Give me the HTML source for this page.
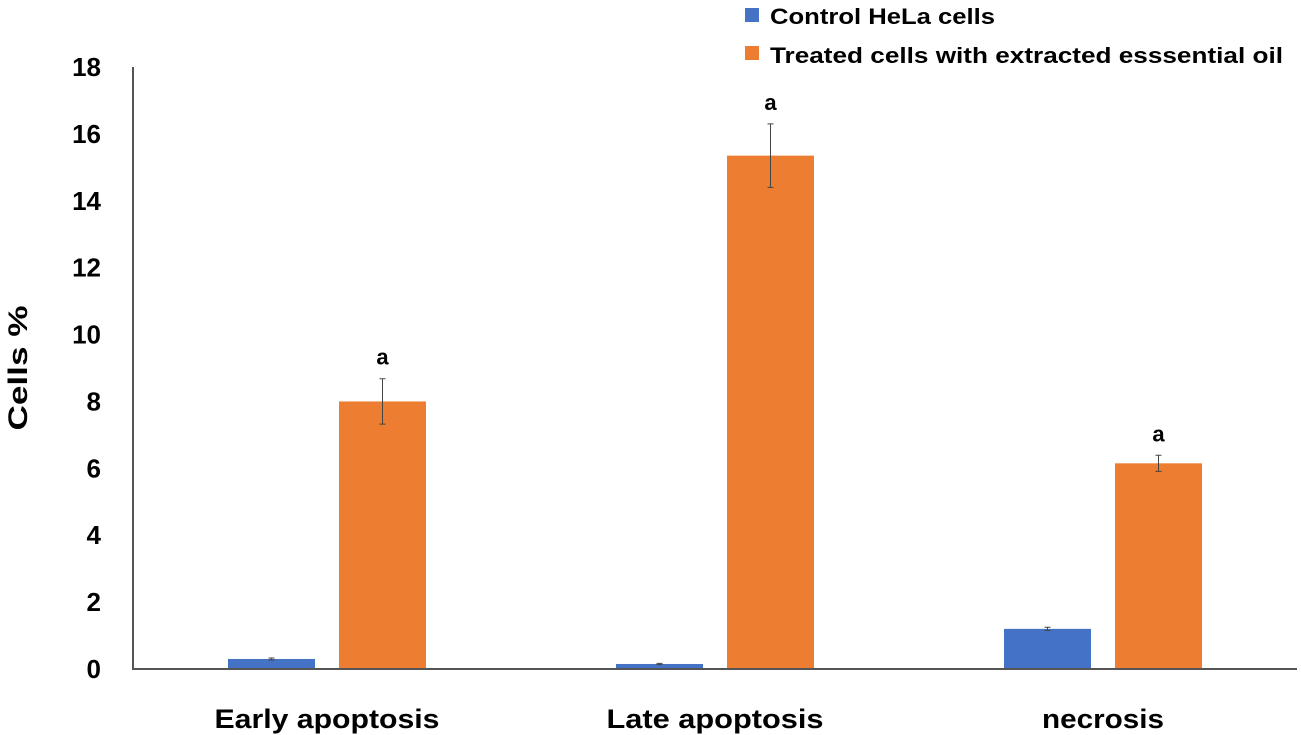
<!DOCTYPE html>
<html><head><meta charset="utf-8"><style>
html,body{margin:0;padding:0;background:#fff;}
svg{display:block;font-family:"Liberation Sans",sans-serif;font-weight:bold;}
</style></head><body>
<svg id="chart" width="1301" height="735">
<g id="legend">
<g><rect x="745" y="8" width="14" height="14" fill="#4472C4"/><text x="770" y="24" font-size="22" textLength="225" lengthAdjust="spacingAndGlyphs">Control HeLa cells</text></g>
<g><rect x="745" y="46" width="14" height="14" fill="#ED7D31"/><text x="770" y="63" font-size="22" textLength="513" lengthAdjust="spacingAndGlyphs">Treated cells with extracted esssential oil</text></g>
</g>
<text x="27" y="368" font-size="27" transform="rotate(-90 27 368)" text-anchor="middle" textLength="125" lengthAdjust="spacingAndGlyphs">Cells %</text>
<g id="plot"></g>
</svg>
<script>
const categories=["Early apoptosis","Late apoptosis","necrosis"];
const control=[0.3,0.15,1.2];
const controlErr=[0.03,0.02,0.05];
const treated=[8.0,15.35,6.15];
const treatedErr=[0.68,0.95,0.24];
const labels=["a","a","a"];
const yTicks=[0,2,4,6,8,10,12,14,16,18];
const catWidths=[225,217,122];
const NS="http://www.w3.org/2000/svg";
const g=document.getElementById('plot');
const x0=133,y0=669,yTop=67,gw=388,bw=87;
const y=v=>y0-(v/18)*(y0-yTop);
function el(t,a){const e=document.createElementNS(NS,t);for(const k in a)e.setAttribute(k,a[k]);g.appendChild(e);return e;}
yTicks.forEach(t=>{const e=el('text',{x:101,y:y(t)+9,'font-size':26,'text-anchor':'end'});e.textContent=t;

});
categories.forEach((c,i)=>{
 const cx=x0+gw*(i+0.5);
 const b1=el('rect',{x:cx-99,y:y(control[i]),width:bw,height:y0-y(control[i]),fill:'#4472C4'});
 
 
 const b2=el('rect',{x:cx+12,y:y(treated[i]),width:bw,height:y0-y(treated[i]),fill:'#ED7D31'});
 
 
 [[cx-55.5,control[i],controlErr[i]],[cx+55.5,treated[i],treatedErr[i]]].forEach(([ex,v,e])=>{
  const eb=el('path',{d:`M${ex},${y(v+e)}V${y(v-e)}M${ex-3},${y(v+e)}H${ex+3}M${ex-3},${y(v-e)}H${ex+3}`,stroke:'#444','stroke-width':1,fill:'none'});
  
  
 });
 const l=el('text',{x:cx+55.5,y:y(treated[i]+treatedErr[i])-14,'font-size':22,'text-anchor':'middle'});l.textContent=labels[i];
 
 
 const ct=el('text',{x:cx,y:728,'font-size':27,'text-anchor':'middle',textLength:catWidths[i],lengthAdjust:'spacingAndGlyphs'});ct.textContent=c;
 
 
});
const ax=el('path',{d:`M${x0},${yTop}V${y0}H1297`,stroke:'#555','stroke-width':2,fill:'none'});


</script>
</body></html>
